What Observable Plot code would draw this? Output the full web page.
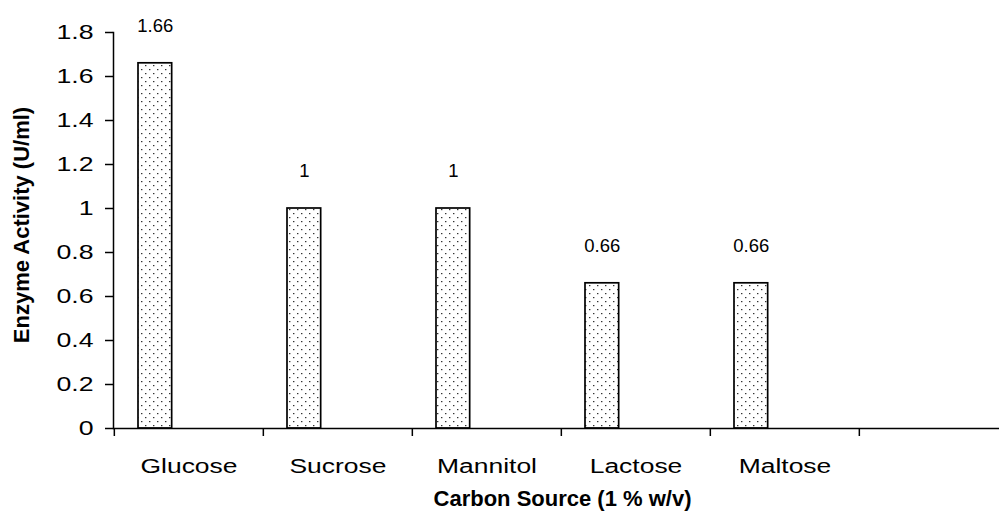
<!DOCTYPE html>
<html><head><meta charset="utf-8">
<script src="https://cdn.jsdelivr.net/npm/d3@7"></script>
<script src="https://cdn.jsdelivr.net/npm/@observablehq/plot@0.6"></script>
<style>html,body{margin:0;padding:0;background:#fff} svg{display:block}</style>
</head><body><div id="chart"></div>
<script>
// ---- data ----
const categories = ["Glucose", "Sucrose", "Mannitol", "Lactose", "Maltose", ""];
const activity = [1.66, 1, 1, 0.66, 0.66];
const valueLabels = ["1.66", "1", "1", "0.66", "0.66"];
const yTicks = [0, 0.2, 0.4, 0.6, 0.8, 1, 1.2, 1.4, 1.6, 1.8];
const yTickLabels = ["0", "0.2", "0.4", "0.6", "0.8", "1", "1.2", "1.4", "1.6", "1.8"];
const xTitle = "Carbon Source (1 % w/v)";
const yTitle = "Enzyme Activity (U/ml)";

const rows = activity.map((v, i) => ({cat: categories[i], v, label: valueLabels[i]}));

// ---- layout ----
const W = 999, H = 519, plotLeft = 113, plotRight = 1009, plotTop = 32, plotBottom = 428;
const bw = (plotRight - plotLeft) / categories.length;
const font = "'Liberation Sans', Arial, sans-serif";

const chart = Plot.plot({
  width: W, height: H,
  marginLeft: plotLeft, marginRight: 0, marginTop: plotTop, marginBottom: H - plotBottom,
  style: {fontFamily: font, background: "#fff", color: "#000", overflow: "hidden"},
  x: {type: "band", domain: categories, range: [plotLeft, plotRight], padding: 0},
  y: {domain: [0, 1.8], range: [plotBottom, plotTop]},
  marks: [
    Plot.barY(rows, {x: "cat", y: "v", fill: "url(#dots)", stroke: "#000", strokeWidth: 1.7,
      insetLeft: 24, insetRight: bw - 58}),
    Plot.frame({anchor: "left", stroke: "#000", strokeWidth: 1.5}),
    Plot.ruleY([0], {stroke: "#000", strokeWidth: 1.5}),
    Plot.axisY({ticks: yTicks, tickFormat: d => yTickLabels[yTicks.indexOf(d)], tickSize: 8,
      tickPadding: 12, fontSize: 21, stroke: "#000", strokeWidth: 1.5, label: null}),
    Plot.axisX({ticks: categories, tickSize: 8, tickFormat: () => "", dx: -bw / 2,
      stroke: "#000", strokeWidth: 1.5, label: null}),
    Plot.axisX({ticks: categories, tickSize: 0, tickPadding: 30, fontSize: 21, label: null}),
    Plot.text(rows, {x: "cat", y: "v", text: "label", dx: 41 - bw / 2, dy: -37, fontSize: 18.5,
      fill: "#000", ariaLabel: "value labels"}),
    Plot.text([xTitle], {frameAnchor: "bottom", dx: 6, dy: 77, fontWeight: "bold", fontSize: 22,
      fill: "#000", ariaLabel: "x title"}),
    Plot.text([yTitle], {frameAnchor: "left", textAnchor: "middle", rotate: -90, dx: -92, dy: -5.5,
      fontWeight: "bold", fontSize: 22, fill: "#000", ariaLabel: "y title"})
  ]
});

// dotted fill pattern
d3.select(chart).insert("defs", ":first-child").html(
  `<pattern id="dots" width="8" height="8" patternUnits="userSpaceOnUse">
     <rect width="8" height="8" fill="#fff"/>
     <rect x="1" y="1" width="1.4" height="1.2" fill="#333"/>
     <rect x="5" y="5" width="1.4" height="1.2" fill="#333"/>
   </pattern>`);

// horizontal widening of text, as in the reference
function stretch(label, s) {
  chart.querySelectorAll(`g[aria-label="${label}"] text`).forEach(t => {
    const tr = t.getAttribute("transform");
    if (tr) t.setAttribute("transform", tr + ` scale(${s},1)`);
  });
}
stretch("y-axis tick label", 1.27);
stretch("x-axis tick label", 1.26);
stretch("value labels", 1.23);
stretch("x title", 1.13);

document.getElementById("chart").appendChild(chart);
</script>
</body></html>
